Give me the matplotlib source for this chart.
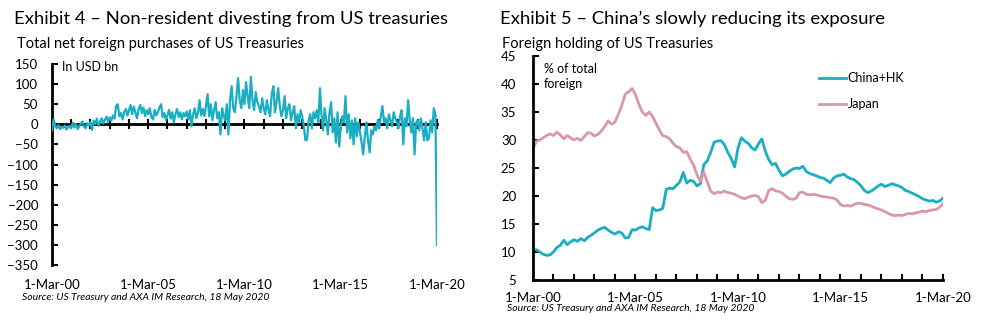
import numpy as np
import pandas as pd
import matplotlib
matplotlib.use('Agg')
import matplotlib.pyplot as plt
import matplotlib.dates as mdates
from matplotlib.ticker import FuncFormatter, MultipleLocator

plt.rcParams['font.family'] = ['Lato', 'DejaVu Sans']

TEAL = '#1aaec3'
PINK = '#d897ab'

# Total net foreign purchases of US Treasuries, USD bn, monthly from Mar-2000
net_purchases = [
    -15, 12, -5, -10, -2, -12, -6, -9, -3, -13, -7, -4,       # Mar-00 .. Feb-01
    -10, 4, -8, 1, -12, -5, 2, 7, -6, -10, 3, -3,
    6, -14, 9, 1, 14, -4, 7, 15, 2, 11, 19, 6,
    17, 9, 22, 14, 45, 50, 20, 28, 12, 30, 38, 22,
    35, 48, 25, 44, 30, 15, 38, 48, 28, 42, 20, 35,
    25, 40, 18, 12, 36, 22, 30, 42, 50, 18, 28, 10,
    22, 36, 14, 30, 5, 26, 38, 18, 30, 12, 28, 20,
    32, 12, 35, -5, 25, 40, 15, 28, 60, 22, 38, 20,
    45, 75, 20, 50, 10, 35, 55, 15, 30, -25, 40, 20,
    10, 50, -25, 60, 95, 40, 30, 70, 115, 60, 40, 85,
    50, 105, 70, 40, 118, 60, 35, 80, 55, 45, 30, 65,
    40, 25, 60, 35, 20, 75, 95, 30, 55, 90, 45, 20,
    35, 70, 15, 40, 50, 10, 30, 45, -10, 25, 5, 35,
    20, -5, -40, -38, 10, 25, -10, 30, 15, 35, 5, 90,
    25, -15, 40, 10, -25, 30, 55, -20, 15, -45, 30, -55,
    -10, 20, 5, 70, -20, 25, -35, 10, -50, 15, -30, 5,
    -20, -45, -75, -30, 5, -40, -70, -15, -25, -5, -15, 10,
    -10, 20, 45, 5, 15, -10, 25, 10, -5, 30, 15, 5,
    -10, 20, 35, -50, 15, -5, 60, 10, -20, 15, -75, 5,
    10, -15, 15, -10, -40, 5, -40, -35, 10, -20, 40, 25,
    -300,                                                      # Mar-20
]

# Share of total foreign holdings (%), every second month from Mar-2000
china_hk = [
    10.3, 10.4, 10.0, 9.6, 9.4, 9.5, 10.0, 10.8, 11.2, 12.1, 11.3, 11.8,
    12.2, 11.9, 12.4, 12.0, 12.6, 13.0, 13.4, 13.9, 14.2, 14.4, 13.9, 13.5,
    13.2, 13.6, 13.4, 12.5, 12.6, 14.0, 13.9, 14.3, 14.5, 14.2, 14.0, 17.9,
    17.4, 17.5, 17.8, 21.2, 21.4, 21.3, 21.9, 22.5, 24.2, 22.3, 22.8, 22.6,
    21.8, 22.2, 25.6, 26.3, 27.8, 29.6, 29.8, 29.9, 29.2, 27.8, 26.7, 25.2,
    28.5, 30.4, 29.8, 29.4, 28.6, 28.2, 29.3, 30.2, 28.0, 26.5, 25.6, 25.8,
    24.6, 23.6, 23.9, 24.4, 24.8, 25.0, 24.9, 25.3, 24.4, 24.0, 23.8, 23.6,
    23.3, 23.2, 22.8, 22.4, 23.2, 23.6, 23.7, 23.9, 23.4, 23.1, 22.9, 22.4,
    21.8, 21.0, 20.6, 20.9, 21.3, 21.8, 22.1, 21.7, 21.9, 22.2, 22.0, 21.8,
    21.5, 21.0, 20.8, 20.5, 20.2, 19.9, 19.5, 19.3, 19.1, 19.2, 18.9, 19.1,
    19.6,
]
japan = [
    28.3, 29.8, 30.0, 30.4, 30.8, 31.1, 30.8, 31.4, 30.9, 30.2, 30.8, 30.4,
    30.0, 30.3, 29.9, 30.6, 31.3, 31.2, 30.7, 31.0, 31.6, 32.4, 33.4, 32.8,
    33.2, 34.6, 36.2, 38.2, 38.6, 39.2, 38.1, 36.4, 35.0, 34.4, 35.0, 34.2,
    33.0, 31.8, 30.8, 30.6, 30.2, 29.4, 28.8, 28.6, 27.8, 27.9, 26.6, 25.5,
    23.8, 22.6, 24.3, 22.5, 20.9, 20.4, 20.7, 20.6, 20.9, 20.6, 20.5, 20.3,
    20.0, 19.7, 19.5, 19.8, 20.0, 20.1, 19.9, 18.8, 19.2, 21.0, 21.3, 20.9,
    20.8, 20.5, 20.0, 19.5, 19.4, 19.6, 20.6, 20.7, 20.3, 20.2, 20.3, 20.2,
    20.0, 19.9, 19.8, 19.7, 19.6, 19.3, 18.5, 18.2, 18.3, 18.2, 18.5, 18.7,
    18.7, 18.5, 18.4, 18.2, 17.9, 17.7, 17.5, 17.2, 16.9, 16.6, 16.5, 16.6,
    16.5, 16.7, 16.9, 16.8, 17.0, 17.1, 17.3, 17.2, 17.4, 17.5, 17.6, 18.0,
    18.6,
]

dates_net = pd.date_range('2000-03-01', periods=len(net_purchases), freq='MS')
dates_hold = pd.date_range('2000-03-01', periods=len(china_hk), freq='2MS')
x_start, x_end = pd.Timestamp('2000-03-01'), pd.Timestamp('2020-03-01')


def date_label(x, pos):
    return '1-' + mdates.num2date(x).strftime('%b-%y')


fig = plt.figure(figsize=(9.99, 3.31), dpi=100)

# ---- Exhibit 4 ----
ax1 = fig.add_axes([0.052, 0.1994, 0.3854, 0.6072])
ax1.plot(dates_net, net_purchases, color=TEAL, lw=1.6, zorder=3)
ax1.set_xlim(x_start, x_end)
ax1.set_ylim(-350, 150)
ax1.yaxis.set_major_locator(MultipleLocator(50))
for s in ['top', 'right']:
    ax1.spines[s].set_visible(False)
ax1.spines['left'].set_linewidth(2)
ax1.spines['bottom'].set_position(('data', 0))
ax1.spines['bottom'].set_linewidth(2)
ax1.xaxis.set_major_locator(mdates.YearLocator(1, month=3, day=1))
ax1.tick_params(axis='x', which='major', direction='inout', length=7, width=1.5,
                labelbottom=False)
ax1.tick_params(axis='y', direction='in', length=4, width=1.5, pad=10, labelsize=9.5)
sec1 = ax1.secondary_xaxis('bottom')
sec1.xaxis.set_major_locator(mdates.YearLocator(5, month=3, day=1))
sec1.xaxis.set_major_formatter(FuncFormatter(date_label))
sec1.tick_params(length=0, pad=10, labelsize=9.5)
sec1.spines['bottom'].set_visible(False)
ax1.text(0.026, 0.985, 'In USD bn', transform=ax1.transAxes, fontsize=9, va='center')

fig.text(0.014, 0.943, 'Exhibit 4 \u2013 Non-resident divesting from US treasuries',
         fontsize=13.3, va='center')
fig.text(0.017, 0.868, 'Total net foreign purchases of US Treasuries',
         fontsize=10.5, va='center')
fig.text(0.022, 0.1, 'Source: US Treasury and AXA IM Research, 18 May 2020',
         fontsize=7.5, style='italic', va='center')

# ---- Exhibit 5 ----
ax2 = fig.add_axes([0.5335, 0.1541, 0.4104, 0.6767])
ax2.plot(dates_hold, china_hk, color=TEAL, lw=2, label='China+HK')
ax2.plot(dates_hold, japan, color=PINK, lw=2, label='Japan')
ax2.set_xlim(x_start, x_end)
ax2.set_ylim(5, 45)
ax2.yaxis.set_major_locator(MultipleLocator(5))
for s in ['top', 'right']:
    ax2.spines[s].set_visible(False)
for s in ['left', 'bottom']:
    ax2.spines[s].set_linewidth(2)
ax2.xaxis.set_major_locator(mdates.YearLocator(5, month=3, day=1))
ax2.xaxis.set_minor_locator(mdates.YearLocator(1, month=3, day=1))
ax2.xaxis.set_major_formatter(FuncFormatter(date_label))
ax2.tick_params(axis='x', which='both', direction='in', length=4, width=1.5,
                pad=9, labelsize=9.5)
ax2.tick_params(axis='y', direction='in', length=4, width=1.5, pad=12, labelsize=9.5)
ax2.text(0.027, 0.97, '% of total\nforeign', transform=ax2.transAxes, fontsize=9,
         va='top', linespacing=1.3)
ax2.legend(loc='upper left', bbox_to_anchor=(0.685, 0.95), frameon=False, fontsize=9,
           handlelength=2.2, handletextpad=0.1, labelspacing=1.1, borderaxespad=0)

fig.text(0.5, 0.943, 'Exhibit 5 \u2013 China\u2019s slowly reducing its exposure',
         fontsize=13.3, va='center')
fig.text(0.503, 0.868, 'Foreign holding of US Treasuries', fontsize=10.5, va='center')
fig.text(0.508, 0.067, 'Source: US Treasury and AXA IM Research, 18 May 2020',
         fontsize=7.5, style='italic', va='center')

fig.savefig('out.png', dpi=100)
